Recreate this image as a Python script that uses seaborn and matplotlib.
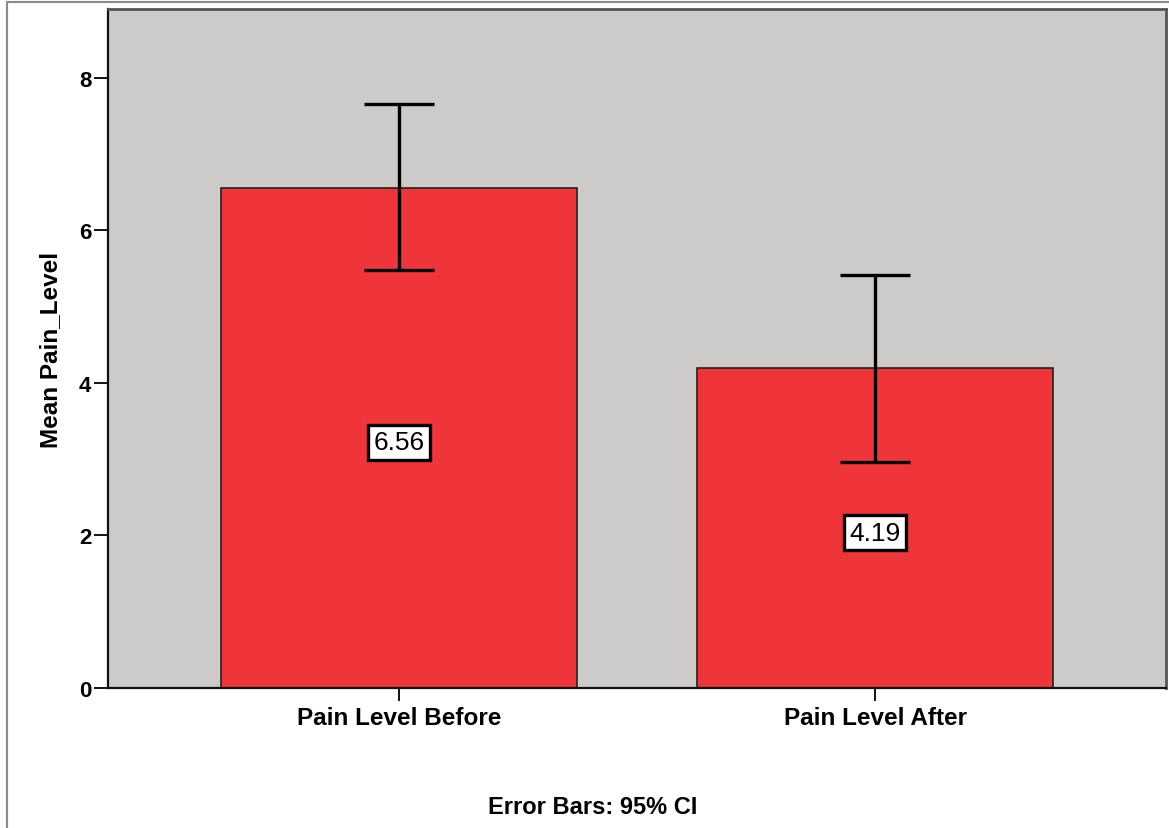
import seaborn as sns
import pandas as pd
import numpy as np
import matplotlib.pyplot as plt
from matplotlib.patches import Rectangle

# values
categories = ['Pain Level Before', 'Pain Level After']
means = [6.56, 4.19]
ci_lower = [5.48, 2.96]
ci_upper = [7.65, 5.41]
yticks = [0, 2, 4, 6, 8]

df = pd.DataFrame({'condition': categories, 'mean': means})

sns.set_style("ticks")
plt.rcParams['font.family'] = ['Liberation Sans', 'DejaVu Sans']
plt.rcParams['text.color'] = 'black'

fig = plt.figure(figsize=(11.69, 8.29), dpi=100)
ax = fig.add_axes([108 / 1169, 1 - 689 / 829, 1058 / 1169, 679 / 829])
ax.set_facecolor('#cccbc9')

sns.barplot(data=df, x='condition', y='mean', color='#ef343a', saturation=1,
            width=0.748, edgecolor='#222222', linewidth=1.2, errorbar=None, ax=ax)

x = np.arange(len(categories))
yerr = [np.array(means) - np.array(ci_lower), np.array(ci_upper) - np.array(means)]
ax.errorbar(x, means, yerr=yerr, fmt='none', ecolor='black', elinewidth=2.4,
            capsize=25.5, capthick=2.4, zorder=5)

for i, m in enumerate(means):
    ax.text(i, m / 2 - 0.06, f'{m:.2f}', ha='center', va='center', fontsize=19,
            color='black', zorder=6,
            bbox=dict(boxstyle='square,pad=0.2', fc='white', ec='black', lw=2.4))

ax.set_xlim(-0.611, 1.611)
ax.set_ylim(0, 8.9)
ax.set_yticks(yticks)
ax.set_yticklabels([str(t) for t in yticks], fontsize=16, fontweight='bold', color='black')
ax.set_xticks(x)
ax.set_xticklabels(categories, fontsize=17.5, fontweight='bold', color='black')
ax.tick_params(axis='y', length=10, width=1.3, pad=2, color='black')
ax.tick_params(axis='x', length=9, width=1.3, pad=4, color='black')
ax.set_xlabel('')
ax.set_ylabel('Mean Pain_Level', fontsize=17.5, fontweight='bold', color='black', labelpad=12)

for side in ['left', 'bottom']:
    ax.spines[side].set_color('#111111')
    ax.spines[side].set_linewidth(1.6)
for side in ['top', 'right']:
    ax.spines[side].set_visible(True)
    ax.spines[side].set_color('#555555')
    ax.spines[side].set_linewidth(2)

fig.text(593 / 1169, 1 - 808 / 829, 'Error Bars: 95% CI', ha='center', va='center',
         fontsize=17, fontweight='bold', color='black')

# outer chart frame
fig.patches.append(Rectangle((7 / 1169, -0.05), 1.1, 1 - 3 / 829 + 0.05,
                             transform=fig.transFigure, fill=False,
                             ec='#8a8a8a', lw=1.5))

fig.savefig('out.png', dpi=100, facecolor='white')
